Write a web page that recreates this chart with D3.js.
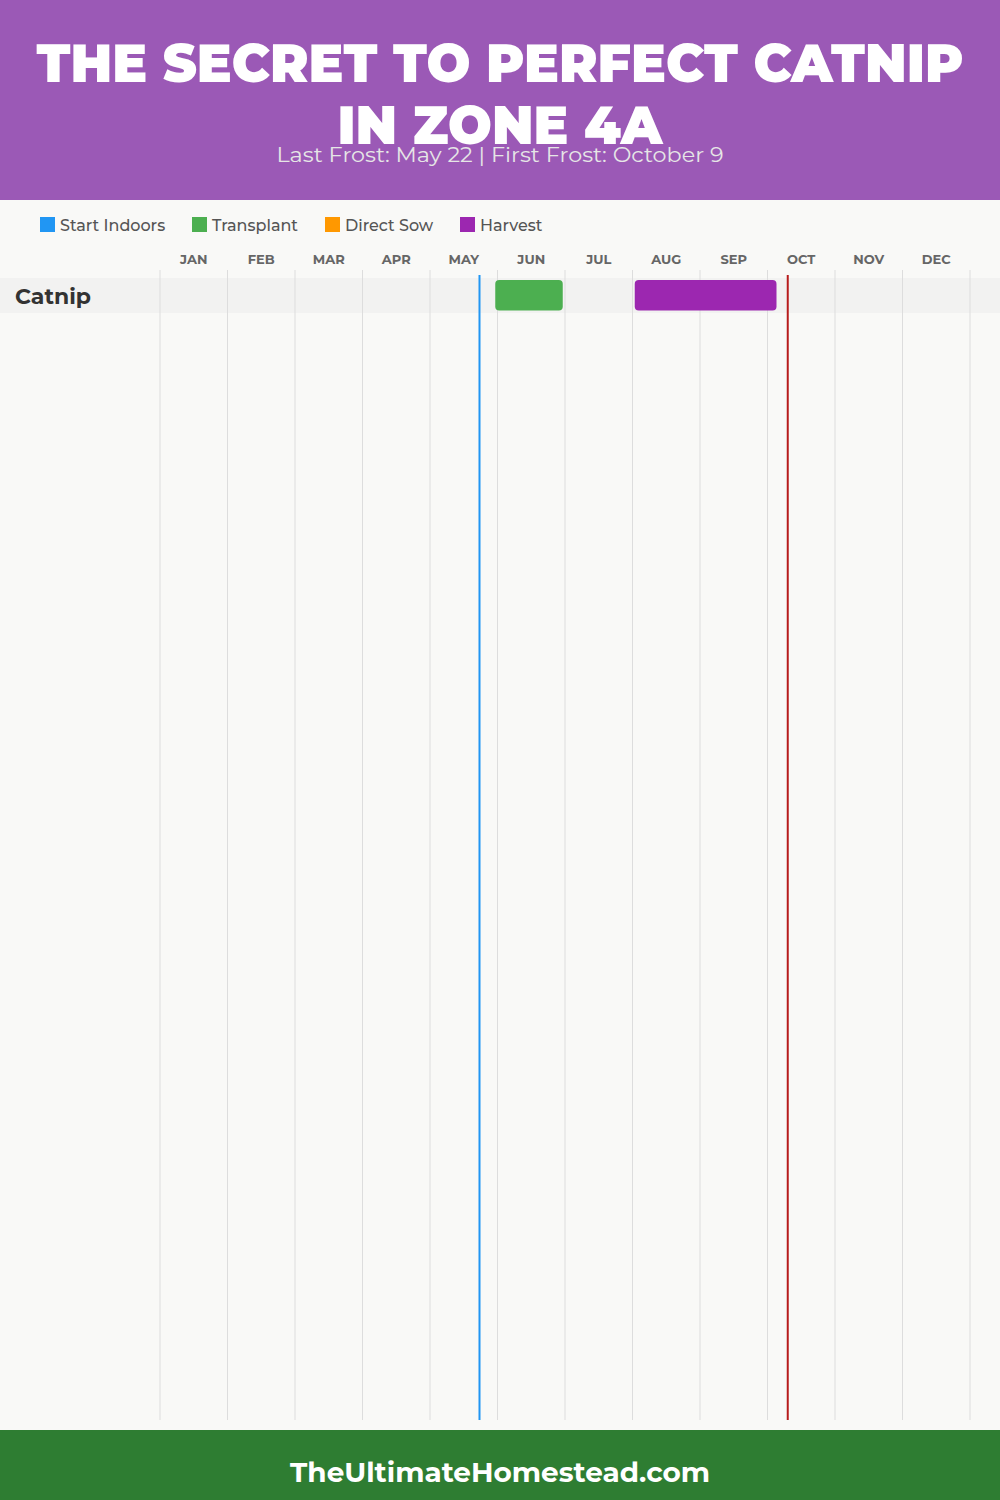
<!DOCTYPE html>
<html><head><meta charset="utf-8">
<script src="https://cdn.jsdelivr.net/npm/d3@7"></script>
<style>body{margin:0;background:#f9f9f7}svg{display:block}</style>
</head><body>
<script>
const months = ["JAN","FEB","MAR","APR","MAY","JUN","JUL","AUG","SEP","OCT","NOV","DEC"];
const legendItems = ["Start Indoors","Transplant","Direct Sow","Harvest"];
const legendColors = ["#2196F3","#4CAF50","#FF9800","#9C27B0"];
const crops = ["Catnip"];
// tasks: [crop, type, startMonth(1-12), startDay, endMonth, endDay]
const tasks = [
  ["Catnip","Transplant",5,29,6,29],
  ["Catnip","Harvest",8,1,10,4]
];
const lastFrost = [5,22];
const firstFrost = [10,9];
const titleLines = ["THE SECRET TO PERFECT CATNIP","IN ZONE 4A"];
const subtitle = "Last Frost: May 22 | First Frost: October 9";
const footer = "TheUltimateHomestead.com";

const W=1000,H=1500;
const FONT = "Montserrat, 'Open Sans', 'Noto Sans', sans-serif";
const svg = d3.select("body").append("svg").attr("width",W).attr("height",H);
svg.append("rect").attr("width",W).attr("height",H).attr("fill","#f9f9f7");

// header
svg.append("rect").attr("width",W).attr("height",200).attr("fill","#9b59b6");
const tl = [[82,927],[144,325]];
titleLines.forEach((t,i)=>{
  svg.append("text").attr("x",500).attr("y",tl[i][0]).attr("text-anchor","middle")
    .attr("font-family",FONT).attr("font-weight",900).attr("font-size",54)
    .attr("fill","#fff").attr("textLength",tl[i][1]).attr("lengthAdjust","spacingAndGlyphs").text(t);
});
svg.append("text").attr("x",500).attr("y",162).attr("text-anchor","middle")
  .attr("font-family",FONT).attr("font-size",21).attr("fill","#e6e6e6")
  .attr("textLength",447).attr("lengthAdjust","spacingAndGlyphs").text(subtitle);

// legend
const legX=[40,192,325,460];
legendItems.forEach((l,i)=>{
  svg.append("rect").attr("x",legX[i]).attr("y",217).attr("width",15).attr("height",15).attr("fill",legendColors[i]);
  svg.append("text").attr("x",legX[i]+20).attr("y",231).attr("font-family",FONT).attr("font-size",16)
    .attr("font-weight",500).attr("fill","#555").text(l);
});

// scale: month index + day/30
const x = d3.scaleLinear().domain([0,12]).range([160,970]);
const pos = (m,d)=> x((m-1)+d/30);

// row band
const y = d3.scaleBand().domain(crops).range([278,313]);
svg.selectAll(".band").data(crops).enter().append("rect")
  .attr("x",0).attr("width",W).attr("y",d=>y(d)).attr("height",y.bandwidth()).attr("fill","#f2f2f1");

// grid
svg.selectAll(".grid").data(d3.range(13)).enter().append("line")
  .attr("x1",d=>x(d)).attr("x2",d=>x(d)).attr("y1",270).attr("y2",1420)
  .attr("stroke","#dddddd").attr("stroke-width",1);

// month labels
svg.selectAll(".mlab").data(months).enter().append("text")
  .attr("x",(d,i)=>x(i+0.5)).attr("y",264).attr("text-anchor","middle")
  .attr("font-family",FONT).attr("font-weight",700).attr("font-size",13).attr("fill","#666").text(d=>d);

// crop labels
svg.selectAll(".clab").data(crops).enter().append("text")
  .attr("x",15).attr("y",d=>y(d)+y.bandwidth()/2+8)
  .attr("font-family",FONT).attr("font-weight",700).attr("font-size",22).attr("fill","#333").text(d=>d);

// bars
const colorOf = t=>legendColors[legendItems.indexOf(t)];
svg.selectAll(".bar").data(tasks).enter().append("rect")
  .attr("x",d=>pos(d[2],d[3])).attr("width",d=>pos(d[4],d[5])-pos(d[2],d[3]))
  .attr("y",d=>y(d[0])+2).attr("height",y.bandwidth()-4.5).attr("rx",4)
  .attr("fill",d=>colorOf(d[1]));

// frost lines
svg.append("line").attr("x1",pos(...lastFrost)).attr("x2",pos(...lastFrost)).attr("y1",275).attr("y2",1420)
  .attr("stroke","#2196F3").attr("stroke-width",2);
svg.append("line").attr("x1",pos(...firstFrost)).attr("x2",pos(...firstFrost)).attr("y1",275).attr("y2",1420)
  .attr("stroke","#b71c1c").attr("stroke-width",2);

// footer
svg.append("rect").attr("y",1430).attr("width",W).attr("height",70).attr("fill","#2e7d32");
svg.append("text").attr("x",500).attr("y",1482).attr("text-anchor","middle")
  .attr("font-family",FONT).attr("font-weight",700).attr("font-size",28).attr("fill","#fff")
  .attr("textLength",420).attr("lengthAdjust","spacingAndGlyphs").text(footer);
</script>
</body></html>
